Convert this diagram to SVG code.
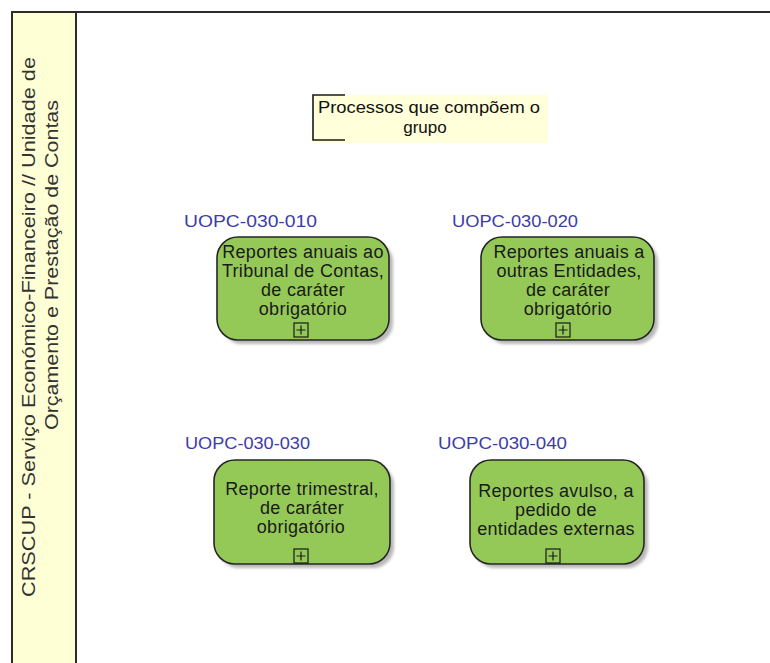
<svg xmlns="http://www.w3.org/2000/svg" width="770" height="663" viewBox="0 0 770 663">
  <style>
    .frame { fill: none; stroke: #2b2b2b; stroke-width: 2; }
    .lane { fill: #FFFFD6; stroke: #2b2b2b; stroke-width: 2; }
    .laneText { font-family: "Liberation Sans", Arial, sans-serif; font-size: 19px; fill: #333333; text-anchor: middle; }
    .fn { fill: #95C957; stroke: #262626; stroke-width: 1.6; }
    .shadow { fill: #B8B8B8; filter: url(#soft); }
    .fnText { font-family: "Liberation Sans", Arial, sans-serif; font-size: 18px; letter-spacing: 0.3px; fill: #1a1a1a; text-anchor: middle; }
    .code { font-family: "Liberation Sans", Arial, sans-serif; font-size: 17px; fill: #3C3CA8; }
    .plus { fill: none; stroke: #1a1a1a; stroke-width: 1.2; }
    .note { fill: #FFFFD9; }
    .bracket { fill: none; stroke: #1a1a1a; stroke-width: 1.6; }
    .noteText { font-family: "Liberation Sans", Arial, sans-serif; font-size: 17px; fill: #111111; text-anchor: middle; }
  </style>
  <defs>
    <filter id="soft" x="-10%" y="-10%" width="120%" height="120%">
      <feGaussianBlur stdDeviation="1.5"/>
    </filter>
    <!-- collapsed sub-process marker -->
    <g id="subMarker">
      <rect class="plus" x="0" y="0" width="14" height="14"/>
      <path class="plus" d="M7 2.5 V11.5 M2.5 7 H11.5"/>
    </g>
  </defs>

  <rect width="770" height="663" fill="#ffffff"/>

  <!-- pool frame and swimlane header -->
  <g id="pool">
    <path class="frame" d="M12 672 V12 H772"/>
    <rect class="lane" x="12" y="12" width="64" height="662"/>
    <text class="laneText" transform="translate(35 327) rotate(-90)" textLength="540" lengthAdjust="spacingAndGlyphs">CRSCUP - Serviço Económico-Financeiro // Unidade de</text>
    <text class="laneText" transform="translate(58 265) rotate(-90)" textLength="330" lengthAdjust="spacingAndGlyphs">Orçamento e Prestação de Contas</text>
  </g>

  <!-- annotation -->
  <g id="note">
    <rect class="note" x="313" y="95" width="235" height="48"/>
    <path class="bracket" d="M345 95 H313 V140 H345"/>
    <text class="noteText" x="429" y="113" textLength="222" lengthAdjust="spacingAndGlyphs">Processos que compõem o</text>
    <text class="noteText" x="425" y="133">grupo</text>
  </g>

  <!-- connectors (none drawn between the functions) -->
  <g id="connectors"></g>

  <g id="UOPC-030-010">
    <text class="code" x="184" y="227" textLength="133" lengthAdjust="spacingAndGlyphs">UOPC-030-010</text>
    <rect class="shadow" x="221" y="241" width="172" height="103" rx="21"/>
    <rect class="fn" x="217" y="237" width="172" height="103" rx="21"/>
    <text class="fnText" x="303" y="258">Reportes anuais ao</text>
    <text class="fnText" x="303" y="277">Tribunal de Contas,</text>
    <text class="fnText" x="303" y="296">de caráter</text>
    <text class="fnText" x="303" y="315">obrigatório</text>
    <use href="#subMarker" x="294" y="323"/>
  </g>

  <g id="UOPC-030-020">
    <text class="code" x="452" y="227" textLength="126" lengthAdjust="spacingAndGlyphs">UOPC-030-020</text>
    <rect class="shadow" x="485" y="241" width="173" height="103" rx="21"/>
    <rect class="fn" x="481" y="237" width="173" height="103" rx="21"/>
    <text class="fnText" x="569" y="258">Reportes anuais a</text>
    <text class="fnText" x="569" y="277">outras Entidades,</text>
    <text class="fnText" x="568" y="296">de caráter</text>
    <text class="fnText" x="568" y="315">obrigatório</text>
    <use href="#subMarker" x="556" y="323"/>
  </g>

  <g id="UOPC-030-030">
    <text class="code" x="185" y="449" textLength="125" lengthAdjust="spacingAndGlyphs">UOPC-030-030</text>
    <rect class="shadow" x="218" y="464" width="176" height="104" rx="21"/>
    <rect class="fn" x="214" y="460" width="176" height="104" rx="21"/>
    <text class="fnText" x="302" y="495">Reporte trimestral,</text>
    <text class="fnText" x="302" y="514">de caráter</text>
    <text class="fnText" x="301" y="533">obrigatório</text>
    <use href="#subMarker" x="294" y="549"/>
  </g>

  <g id="UOPC-030-040">
    <text class="code" x="438" y="449" textLength="129" lengthAdjust="spacingAndGlyphs">UOPC-030-040</text>
    <rect class="shadow" x="474" y="464" width="174" height="104" rx="21"/>
    <rect class="fn" x="470" y="460" width="174" height="104" rx="21"/>
    <text class="fnText" x="556" y="497">Reportes avulso, a</text>
    <text class="fnText" x="556" y="516">pedido de</text>
    <text class="fnText" x="556" y="535">entidades externas</text>
    <use href="#subMarker" x="546" y="549"/>
  </g>
</svg>
